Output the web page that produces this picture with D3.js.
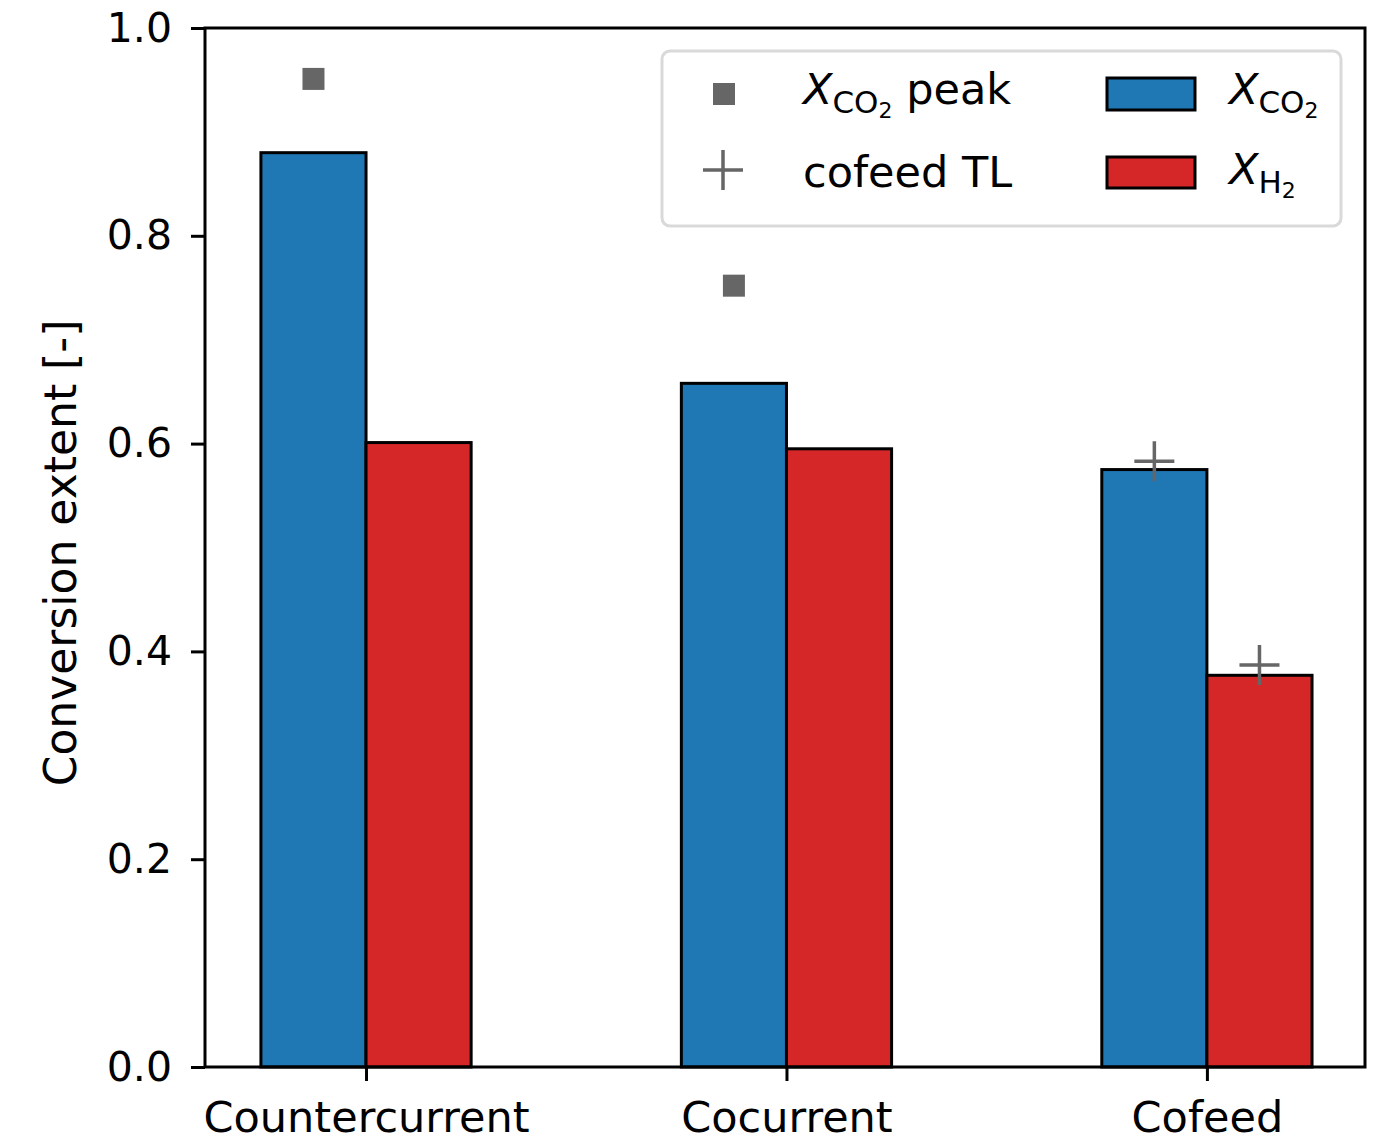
<!DOCTYPE html>
<html>
<head>
<meta charset="utf-8">
<script src="https://cdn.jsdelivr.net/npm/d3@7"></script>
<style>
  html, body { margin: 0; padding: 0; background: #fff; }
  svg { display: block; }
  text { font-family: "DejaVu Sans", sans-serif; fill: #000; }
</style>
</head>
<body>
<svg id="chart" width="1376" height="1137"></svg>
<script>
// Operating modes and conversion extents
const categories = ["Countercurrent", "Cocurrent", "Cofeed"];
const xCO2 = [0.880, 0.658, 0.575];
const xH2 = [0.601, 0.595, 0.377];
// Peak CO2 conversion (transient), shown for the first two modes
const peakCO2 = [0.951, 0.752, null];
// Cofeed thermodynamic limit markers (CO2, H2) for the cofeed case
const cofeedTL_CO2 = [null, null, 0.583];
const cofeedTL_H2 = [null, null, 0.387];
const yTicks = [0.0, 0.2, 0.4, 0.6, 0.8, 1.0];

const svg = d3.select("#chart");
const plotLeft = 205, plotRight = 1365, plotTop = 28, plotBottom = 1067;
const tickFs = 41, fs = 43;
const barW = 0.25;

const x = d3.scaleLinear().domain([-0.383, 2.376]).range([plotLeft, plotRight]);
const y = d3.scaleLinear().domain([0, 1]).range([plotBottom, plotTop]);

const blue = "#1f77b4", red = "#d62728", gray = "#666666";

// Bars
const g = svg.append("g");
g.selectAll("rect.co2").data(xCO2).join("rect")
  .attr("class", "co2")
  .attr("x", (d, i) => x(i - barW))
  .attr("width", (d, i) => x(i) - x(i - barW))
  .attr("y", d => y(d))
  .attr("height", d => y(0) - y(d))
  .attr("fill", blue).attr("stroke", "#000").attr("stroke-width", 3);
g.selectAll("rect.h2").data(xH2).join("rect")
  .attr("class", "h2")
  .attr("x", (d, i) => x(i))
  .attr("width", (d, i) => x(i + barW) - x(i))
  .attr("y", d => y(d))
  .attr("height", d => y(0) - y(d))
  .attr("fill", red).attr("stroke", "#000").attr("stroke-width", 3);

// Peak markers (squares)
const sq = 22;
g.selectAll("rect.peak").data(peakCO2.map((v, i) => ({v, i})).filter(d => d.v != null)).join("rect")
  .attr("class", "peak")
  .attr("x", d => x(d.i - barW / 2) - sq / 2)
  .attr("y", d => y(d.v) - sq / 2)
  .attr("width", sq).attr("height", sq)
  .attr("fill", gray);

// Plus markers
function plus(sel, cx, cy, s) {
  sel.append("path")
    .attr("d", `M${cx - s},${cy}H${cx + s}M${cx},${cy - s}V${cy + s}`)
    .attr("stroke", gray).attr("stroke-width", 3.5).attr("fill", "none");
}
cofeedTL_CO2.forEach((v, i) => { if (v != null) plus(g, x(i - barW / 2), y(v), 20); });
cofeedTL_H2.forEach((v, i) => { if (v != null) plus(g, x(i + barW / 2), y(v), 20); });

// Axes
const yAxis = d3.axisLeft(y).tickValues(yTicks).tickFormat(d3.format(".1f")).tickSize(14).tickPadding(19);
const xAxis = d3.axisBottom(x).tickValues([0, 1, 2]).tickFormat(i => categories[i]).tickSize(14).tickPadding(20);

const ya = svg.append("g").attr("transform", `translate(${plotLeft},0)`).call(yAxis);
const xa = svg.append("g").attr("transform", `translate(0,${plotBottom})`).call(xAxis);
[ya, xa].forEach(a => {
  a.select(".domain").remove();
  a.selectAll("line").attr("stroke", "#000").attr("stroke-width", 3);
  a.selectAll("text").attr("font-family", "DejaVu Sans").attr("fill", "#000");
});
ya.selectAll("text").attr("font-size", tickFs);
xa.selectAll("text").attr("font-size", fs);

// Frame
svg.append("rect")
  .attr("x", plotLeft).attr("y", plotTop).attr("width", plotRight - plotLeft).attr("height", plotBottom - plotTop)
  .attr("fill", "none").attr("stroke", "#000").attr("stroke-width", 3);

// Y label
svg.append("text")
  .attr("transform", `translate(76,553) rotate(-90)`)
  .attr("text-anchor", "middle")
  .attr("font-size", 44)
  .text("Conversion extent [-]");

// Legend
const lg = svg.append("g");
lg.append("rect")
  .attr("x", 662).attr("y", 51).attr("width", 679).attr("height", 175)
  .attr("rx", 8).attr("fill", "#fff").attr("fill-opacity", 0.8)
  .attr("stroke", "#d9d9d9").attr("stroke-width", 3);

function xLabel(sel, tx, ty, sub, extra) {
  const t = sel.append("text").attr("x", tx).attr("y", ty).attr("font-size", fs);
  t.append("tspan").attr("font-style", "italic").text("X");
  if (sub === "CO2") {
    t.append("tspan").attr("font-size", 31).attr("dy", 9).text("CO");
    t.append("tspan").attr("font-size", 22).attr("dy", 5).text("2");
    if (extra) t.append("tspan").attr("font-size", fs).attr("dy", -14).text(" " + extra);
  } else {
    t.append("tspan").attr("font-size", 31).attr("dy", 9).text("H");
    t.append("tspan").attr("font-size", 22).attr("dy", 5).text("2");
  }
}

lg.append("rect").attr("x", 713).attr("y", 83).attr("width", sq).attr("height", sq).attr("fill", gray);
xLabel(lg, 803, 104, "CO2", "peak");
plus(lg, 723, 170, 20);
lg.append("text").attr("x", 803).attr("y", 187).attr("font-size", fs).text("cofeed TL");

lg.append("rect").attr("x", 1107).attr("y", 78).attr("width", 88).attr("height", 32)
  .attr("fill", blue).attr("stroke", "#000").attr("stroke-width", 3);
xLabel(lg, 1229, 104, "CO2");
lg.append("rect").attr("x", 1107).attr("y", 157).attr("width", 88).attr("height", 31)
  .attr("fill", red).attr("stroke", "#000").attr("stroke-width", 3);
xLabel(lg, 1229, 184, "H2");
</script>
</body>
</html>
